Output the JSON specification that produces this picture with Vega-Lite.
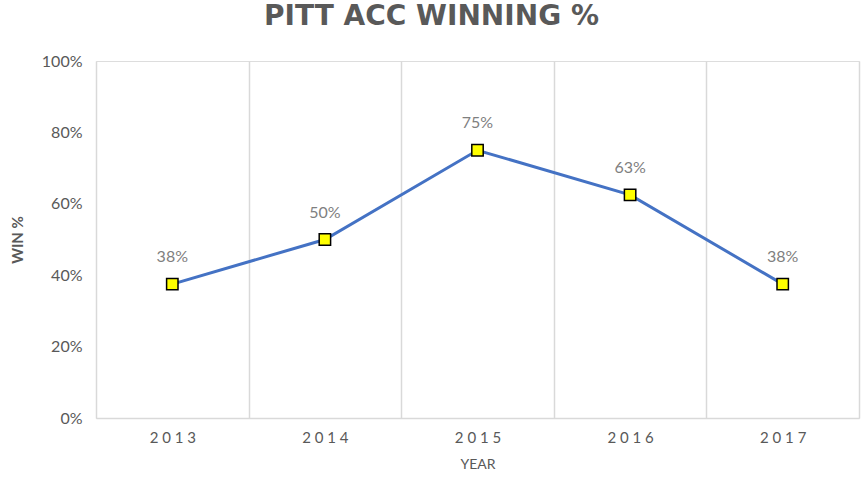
{
  "$schema": "https://vega.github.io/schema/vega-lite/v6.json",
  "width": 763,
  "height": 357,
  "autosize": {"type": "none"},
  "padding": {"left": 96, "top": 61, "right": 6, "bottom": 60},
  "background": "white",
  "title": {
    "text": "PITT ACC WINNING %",
    "font": "DejaVu Sans",
    "fontSize": 28,
    "fontWeight": "bold",
    "color": "#595959",
    "anchor": "middle",
    "dx": -46,
    "offset": 22
  },
  "data": {
    "values": [
      {"year": "2013", "win": 0.375, "label": "38%"},
      {"year": "2014", "win": 0.5, "label": "50%"},
      {"year": "2015", "win": 0.75, "label": "75%"},
      {"year": "2016", "win": 0.625, "label": "63%"},
      {"year": "2017", "win": 0.375, "label": "38%"}
    ]
  },
  "encoding": {
    "x": {
      "field": "year",
      "type": "ordinal",
      "scale": {"type": "band", "paddingInner": 0, "paddingOuter": 0},
      "axis": {
        "title": "YEAR",
        "titleFont": "Lato",
        "titleFontSize": 14,
        "titleFontWeight": "normal",
        "titleColor": "#595959",
        "titlePadding": 12,
        "labelFont": "Lato",
        "labelFontSize": 15,
        "labelColor": "#595959",
        "labelAngle": 0,
        "labelPadding": 12,
        "labelExpr": "join(split(datum.label, ''), ' ')",
        "ticks": false,
        "tickBand": "extent",
        "grid": true,
        "gridColor": "#d9d9d9",
        "gridWidth": 1.5,
        "domainColor": "#d9d9d9",
        "domainWidth": 1.5
      }
    },
    "y": {
      "field": "win",
      "type": "quantitative",
      "scale": {"domain": [0, 1]},
      "axis": {
        "title": "WIN %",
        "titleFont": "Lato",
        "titleFontSize": 15,
        "titleFontWeight": "bold",
        "titleColor": "#595959",
        "titlePadding": 16,
        "labelFont": "Lato",
        "labelFontSize": 16,
        "labelColor": "#595959",
        "labelPadding": 14,
        "format": ".0%",
        "values": [0, 0.2, 0.4, 0.6, 0.8, 1],
        "ticks": false,
        "grid": false,
        "domain": false
      }
    }
  },
  "layer": [
    {"mark": {"type": "line", "color": "#4472C4", "strokeWidth": 3}},
    {"mark": {"type": "point", "shape": "square", "filled": true, "fill": "#FFFF00", "stroke": "black", "strokeWidth": 1.5, "size": 130, "opacity": 1}},
    {
      "mark": {"type": "text", "dy": -27, "font": "Lato", "fontSize": 16, "color": "#7f7f7f"},
      "encoding": {"text": {"field": "label"}}
    }
  ]
}
